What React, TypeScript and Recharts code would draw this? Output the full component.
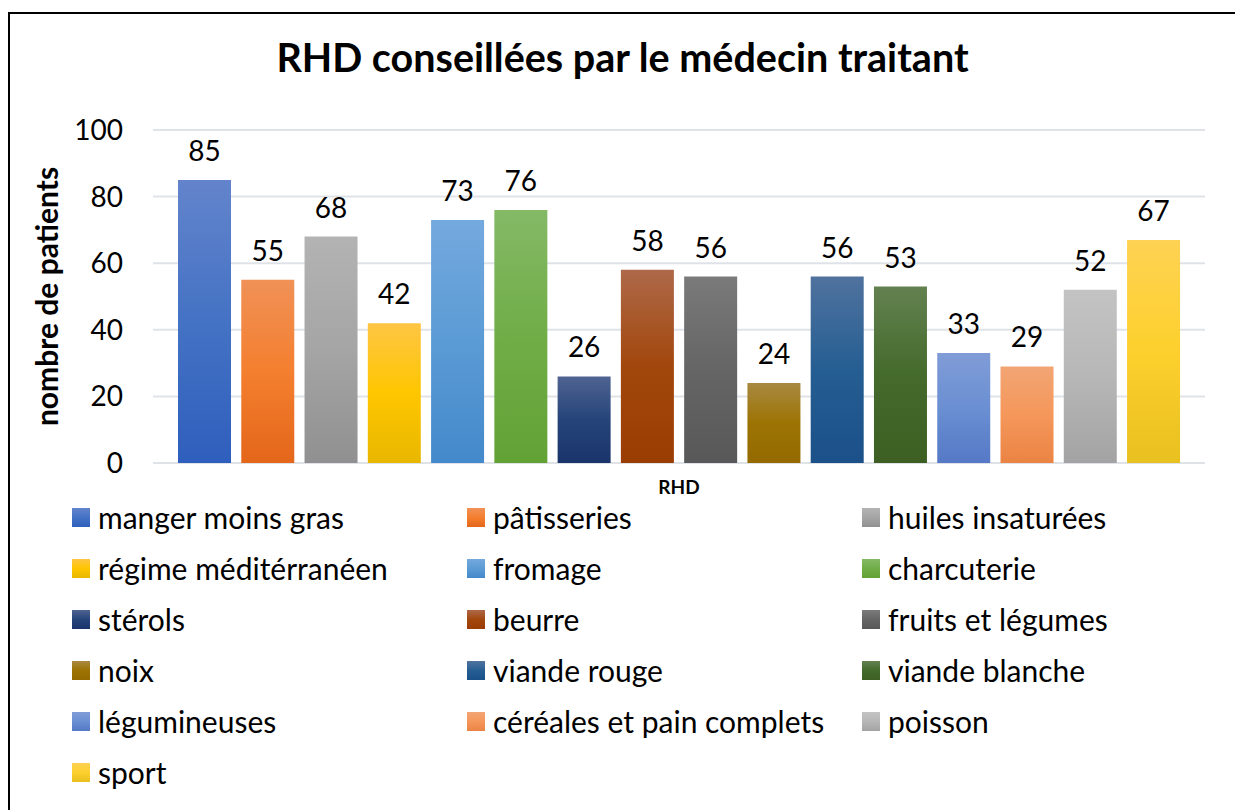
import { BarChart, Bar, XAxis, YAxis, CartesianGrid, LabelList } from 'recharts';

const category = 'RHD';
const seriesNames = [
    'manger moins gras', 'pâtisseries', 'huiles insaturées',
    'régime méditérranéen', 'fromage', 'charcuterie',
    'stérols', 'beurre', 'fruits et légumes',
    'noix', 'viande rouge', 'viande blanche',
    'légumineuses', 'céréales et pain complets', 'poisson',
    'sport',
];
const seriesValues = [85, 55, 68, 42, 73, 76, 26, 58, 56, 24, 56, 53, 33, 29, 52, 67];
const yTicks = [0, 20, 40, 60, 80, 100];

// [top, middle, bottom] gradient stops, Office-like palette
const palette = [
    ['#6384cc', '#4472c4', '#2f5fbd'],
    ['#f09157', '#f47f2f', '#e4661a'],
    ['#b3b3b3', '#a5a5a5', '#909090'],
    ['#fdc544', '#ffc600', '#e8b700'],
    ['#74a9de', '#5b9bd5', '#4489cb'],
    ['#84b966', '#70ad47', '#62a235'],
    ['#4f6391', '#26447a', '#1a346b'],
    ['#ae6949', '#a2470c', '#9a3d03'],
    ['#7a7a7a', '#656565', '#585858'],
    ['#a98941', '#9c7303', '#946a00'],
    ['#50729e', '#255e93', '#1b5089'],
    ['#638150', '#446a2c', '#3d5f23'],
    ['#809cd7', '#6a8fd2', '#5579c6'],
    ['#f2a574', '#f5975b', '#ea8444'],
    ['#c3c3c3', '#b7b7b7', '#a3a3a3'],
    ['#fed253', '#fdd02d', '#e8c01f'],
];

const keys = seriesNames.map((_, i) => `s${i}`);
const row: Record<string, string | number> = { name: category };
keys.forEach((k, i) => { row[k] = seriesValues[i]; });
const data = [row];

const FONT = 'Lato, "Noto Sans", sans-serif';
const legendCols = [72, 467, 862];
const legendRowY = 517;
const legendRowStep = 51;

export default function App() {
    return (
        <div style={{ position: 'fixed', left: 0, top: 0, width: 1235, height: 810, overflow: 'hidden', background: '#fff', fontFamily: FONT }}>
            <div style={{ position: 'absolute', left: 8, top: 12, width: 1260, height: 840, border: '2px solid #000', boxSizing: 'border-box' }} />
            <div style={{ position: 'absolute', left: 0, width: 1245, top: 33, textAlign: 'center', fontSize: 39.5, fontWeight: 'bold', color: '#000' }}>
                RHD conseillées par le médecin traitant
            </div>
            <div style={{ position: 'absolute', left: 0, top: 0 }}>
                <BarChart
                    width={1235}
                    height={810}
                    data={data}
                    margin={{ top: 130, right: 30, left: 0, bottom: 307 }}
                    barSize={53}
                    barGap={10.27}
                >
                    <defs>
                        {palette.map((c, i) => (
                            <linearGradient key={i} id={`g${i}`} x1="0" y1="0" x2="0" y2="1">
                                <stop offset="0%" stopColor={c[0]} />
                                <stop offset="50%" stopColor={c[1]} />
                                <stop offset="100%" stopColor={c[2]} />
                            </linearGradient>
                        ))}
                    </defs>
                    <CartesianGrid vertical={false} stroke="#dfe3e8" strokeWidth={2} />
                    <XAxis
                        dataKey="name"
                        axisLine={false}
                        tickLine={false}
                        tickSize={0}
                        tickMargin={18}
                        height={40}
                        tick={{ fontSize: 19, fontWeight: 'bold', fill: '#000', fontFamily: FONT }}
                    />
                    <YAxis
                        domain={[0, 100]}
                        ticks={yTicks}
                        width={153}
                        axisLine={false}
                        tickLine={false}
                        tickSize={0}
                        tickMargin={30}
                        tick={{ fontSize: 28, fill: '#000', fontFamily: FONT }}
                        label={{
                            value: 'nombre de patients',
                            angle: -90,
                            position: 'insideLeft',
                            offset: 47,
                            style: { fontSize: 30, fontWeight: 'bold', fill: '#000', fontFamily: FONT, textAnchor: 'middle' },
                        }}
                    />
                    {keys.map((k, i) => (
                        <Bar key={k} dataKey={k} name={seriesNames[i]} fill={`url(#g${i})`} isAnimationActive={false}>
                            <LabelList dataKey={k} position="top" offset={19} style={{ fontSize: 28, fill: '#000', fontFamily: FONT }} />
                        </Bar>
                    ))}
                </BarChart>
            </div>
            {seriesNames.map((n, i) => {
                const col = i % 3;
                const r = Math.floor(i / 3);
                const cy = legendRowY + r * legendRowStep;
                const c = palette[i];
                return (
                    <div key={n} style={{ position: 'absolute', left: legendCols[col], top: cy - 20, height: 40, display: 'flex', alignItems: 'center', whiteSpace: 'nowrap' }}>
                        <span style={{ display: 'inline-block', width: 18, height: 19, background: `linear-gradient(${c[0]}, ${c[1]}, ${c[2]})`, marginRight: 8 }} />
                        <span style={{ fontSize: 30, color: '#000', lineHeight: '40px' }}>{n}</span>
                    </div>
                );
            })}
        </div>
    );
}
